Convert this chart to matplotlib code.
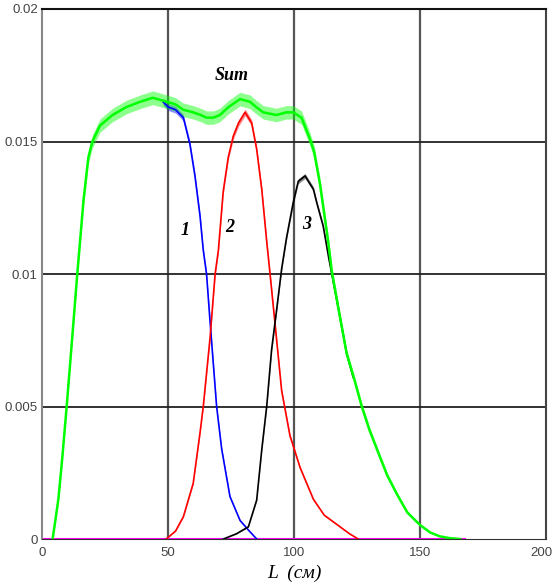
import numpy as np
import matplotlib.pyplot as plt
from matplotlib.transforms import ScaledTranslation

# component 1 (blue), 2 (red), 3 (black) and their sum (green)
L_sum = [4.2, 5.0, 6.5, 8.0, 9.8, 12.0, 14.0, 16.5, 18.4, 20.0, 23.0, 28.0,
         33.5, 39.0, 44.0, 49.5, 53.0, 56.0, 60.0, 63.0, 65.3, 68.0, 70.6,
         74.0, 78.6, 82.5, 85.0, 87.8, 93.0, 97.0, 99.7, 103.0, 106.3, 108.0,
         110.3, 113.6, 115.0, 118.0, 120.9, 124.0, 126.9, 130.0, 134.1, 137.0,
         140.8, 145.0, 150.0, 154.0, 157.9, 162.0, 166.0]
p_sum = [0.0, 0.0005, 0.0015, 0.0030, 0.0050, 0.0076, 0.0100, 0.0128, 0.0144,
         0.0150, 0.0156, 0.0160, 0.0163, 0.0165, 0.01665, 0.0165, 0.0164,
         0.0162, 0.0161, 0.0160, 0.0159, 0.0159, 0.0160, 0.0163, 0.0166,
         0.0165, 0.0163, 0.0161, 0.0160, 0.0161, 0.0161, 0.0159, 0.0151,
         0.0146, 0.0134, 0.0112, 0.0101, 0.0085, 0.0070, 0.0060, 0.0050,
         0.0041, 0.0031, 0.0024, 0.0017, 0.0010, 0.00053, 0.00025, 0.0001,
         0.00003, 0.0]

L_1 = [48.0, 50.1, 53.0, 56.1, 58.7, 60.7, 62.7, 64.0, 65.3, 66.7, 69.3,
       71.3, 74.6, 78.6, 81.9, 85.2]
p_1 = [0.0165, 0.0163, 0.0162, 0.0159, 0.0149, 0.0137, 0.0122, 0.0109,
       0.0100, 0.0082, 0.0050, 0.0034, 0.0016, 0.0007, 0.00034, 0.0]

L_2 = [49.3, 53.0, 56.1, 60.0, 62.7, 64.0, 66.7, 68.7, 70.0, 71.9, 73.9,
       75.9, 78.0, 80.6, 83.2, 85.2, 87.2, 89.2, 90.5, 92.5, 95.1, 98.4,
       102.4, 107.7, 112.0, 118.3, 122.0, 125.5]
p_2 = [0.0, 0.0003, 0.00084, 0.0021, 0.0040, 0.0050, 0.0076, 0.0100, 0.0109,
       0.0131, 0.0144, 0.0152, 0.0157, 0.0161, 0.0157, 0.0147, 0.0132,
       0.0112, 0.0100, 0.0081, 0.0056, 0.0039, 0.0027, 0.0015, 0.0009,
       0.00046, 0.0002, 0.0]

L_3 = [72.0, 77.2, 81.9, 85.2, 87.2, 89.2, 91.1, 93.1, 95.1, 97.1, 99.7,
       101.7, 104.4, 107.7, 109.0, 111.6, 113.8, 115.0, 118.0, 120.9, 123.5]
p_3 = [0.0, 0.0002, 0.00046, 0.00147, 0.00336, 0.00503, 0.00713, 0.00864,
       0.0102, 0.0114, 0.0127, 0.0135, 0.0137, 0.0132, 0.0127, 0.0118,
       0.0106, 0.0100, 0.0085, 0.0070, 0.0061]

L_zero = [0.0, 168.0]
p_zero = [0.0, 0.0]

xticks = [0, 50, 100, 150, 200]
yticks = [0, 0.005, 0.01, 0.015, 0.02]
ytick_labels = ['0', '0.005', '0.01', '0.015', '0.02']


def fuzzy(ax, x, y, color, k, lw=1.2):
    # thin band around the curve for the statistical scatter
    x = np.asarray(x)
    y = np.asarray(y)
    w = k * np.sqrt(y)
    ax.fill_between(x, y - w, y + w, color=color, lw=0, alpha=0.45)
    ax.plot(x, y, color=color, lw=lw)


fig = plt.figure(figsize=(5.56, 5.88), dpi=100)
ax = fig.add_axes([0.0755, 0.0833, 0.9065, 0.9014])

for v in [50, 100, 150]:
    ax.axvline(v, color='#555555', lw=1.6, zorder=0)
for v in [0.005, 0.01, 0.015]:
    ax.axhline(v, color='#222222', lw=1.3, zorder=0)

ax.plot(L_zero, p_zero, color='#ff00ff', lw=1.5, zorder=1)
fuzzy(ax, L_1, p_1, '#0000ff', 0.0010)
fuzzy(ax, L_2, p_2, '#ff0000', 0.0010)
fuzzy(ax, L_3, p_3, '#000000', 0.0008)
fuzzy(ax, L_sum, p_sum, '#00ff00', 0.0020, lw=1.8)

serif = 'Liberation Serif'
ax.text(75.4, 0.0175, 'Sum', family=serif, style='italic', weight='bold',
        fontsize=13, ha='center', va='center')
ax.text(56.7, 0.01166, '1', family=serif, style='italic', weight='bold',
        fontsize=13, ha='center', va='center')
ax.text(74.6, 0.01174, '2', family=serif, style='italic', weight='bold',
        fontsize=13, ha='center', va='center')
ax.text(105.2, 0.01185, '3', family=serif, style='italic', weight='bold',
        fontsize=13, ha='center', va='center')

ax.set_xlim(0, 200)
ax.set_ylim(0, 0.02)
ax.set_xticks(xticks)
ax.set_yticks(yticks)
ax.set_yticklabels(ytick_labels)
ax.tick_params(length=0, labelsize=9.5, colors='#444444')
ax.tick_params(axis='y', pad=3)
ax.tick_params(axis='x', pad=6)
for lab in ax.get_xticklabels() + ax.get_yticklabels():
    lab.set_family('Liberation Sans')
# keep the last x label inside the figure
last = ax.get_xticklabels()[-1]
last.set_transform(last.get_transform() +
                   ScaledTranslation(-5 / 100, 0, fig.dpi_scale_trans))
ax.set_xlabel('L  (см)', family=serif, style='italic', fontsize=14,
              labelpad=4)

ax.spines['left'].set_color('#888888')
ax.spines['left'].set_linewidth(1.5)
ax.spines['bottom'].set_color('#333333')
ax.spines['top'].set_color('#111111')
ax.spines['top'].set_linewidth(1.5)
ax.spines['right'].set_color('#444444')
ax.spines['right'].set_linewidth(1.5)

fig.savefig('out.png', dpi=100)
